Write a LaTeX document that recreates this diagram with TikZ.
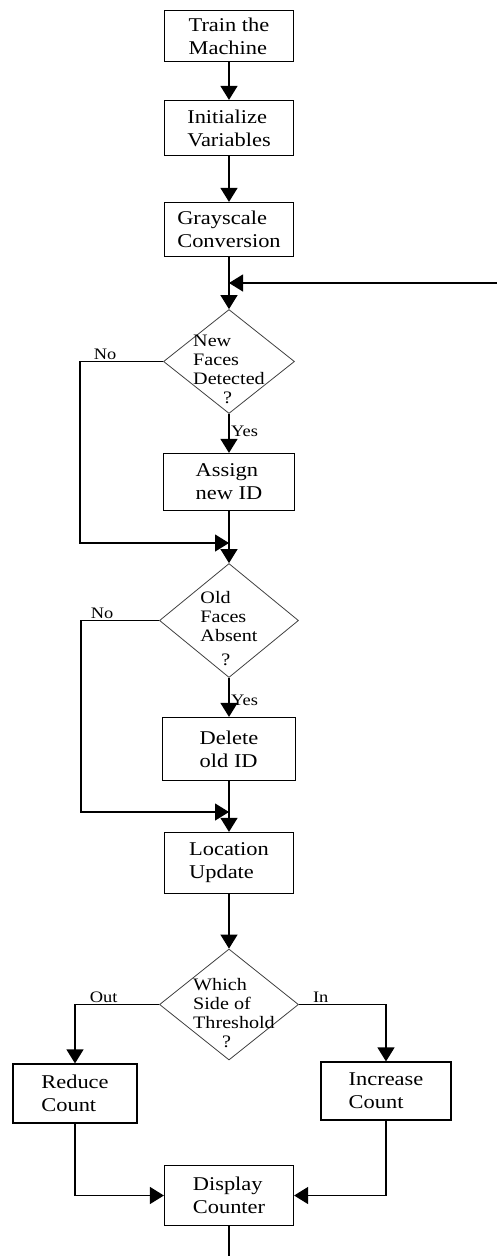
\documentclass[tikz,border=0pt]{standalone}
\usepackage{fontspec}
\setmainfont[FakeStretch=1.15]{Liberation Serif}
\usetikzlibrary{arrows.meta, positioning, shapes.geometric}

\begin{document}
\begin{tikzpicture}[
				x=1pt, y=-1pt,
				node distance=100pt,
				box/.style={draw, line width=1.2pt, rectangle, minimum width=129pt, minimum height=57pt, inner sep=2pt, align=left, font=\fontsize{19.5}{23}\selectfont},
				decision/.style={draw=black!75, line width=0.8pt, diamond, inner sep=0pt},
				dtext/.style={align=left, inner sep=0pt, font=\fontsize{17.5}{19}\selectfont},
				lbl/.style={inner sep=1.5pt, font=\fontsize{16}{18}\selectfont},
				line/.style={line width=1.3pt},
				flow/.style={line, -{Triangle[width=17pt,length=14pt]}}]

			\useasboundingbox (0,0) rectangle (497,1256);

			\node[box, minimum height=51pt] (train) at (229,36) {Train the\\Machine};
			\node[box, minimum height=55pt, node distance=92pt, below of=train] (init_vars) {Initialize\\Variables};
			\node[box, minimum height=54pt, node distance=101.5pt, below of=init_vars] (grayscale) {Grayscale\\Conversion};
			\node[decision, minimum width=131pt, minimum height=104pt, node distance=132pt, below of=grayscale] (new_faces) {};
			\node[dtext] (new_txt) at ([yshift=-8pt]new_faces.center) {New\\Faces\\Detected\\\hspace*{30pt}?};
			\node[box, minimum width=131pt, node distance=120.5pt, below of=new_faces] (assign_id) {Assign\\new ID};
			\node[decision, minimum width=139pt, minimum height=114pt, node distance=138.5pt, below of=assign_id] (old_faces) {};
			\node[dtext] (old_txt) at ([yshift=-8.5pt]old_faces.center) {Old\\Faces\\Absent\\[5pt]\hspace*{21pt}?};
			\node[box, minimum width=133pt, minimum height=63pt, node distance=128.5pt, below of=old_faces] (delete_id) {Delete\\old ID};
			\node[box, minimum height=61pt, node distance=114pt, below of=delete_id] (location) {Location\\Update};
			\node[decision, minimum width=139pt, minimum height=111pt, node distance=141.5pt, below of=location] (which_side) {};
			\node[dtext, xshift=5pt] (which_txt) at ([yshift=-8.5pt]which_side.center) {Which\\Side of\\Threshold\\\hspace*{29pt}?};
			\node[box, minimum width=124pt, minimum height=59pt] (reduce) at (75,1093.5) {Reduce\\Count};
			\node[box, minimum width=130pt, minimum height=58pt] (increase) at (386,1091) {Increase\\Count};
			\node[box, minimum height=60pt, node distance=191pt, below of=which_side] (display) {Display\\Counter};

			\coordinate (loop_in) at (497,283);
			\coordinate (merge) at (229,283);
			\coordinate (join_new) at (229,543);
			\coordinate (join_old) at (229,812);
			\coordinate (out_end) at (229,1256);

			\draw[flow] (train) -- (init_vars);
			\draw[flow] (init_vars) -- (grayscale);
			\draw[flow] (grayscale) -- (new_faces);
			\draw[flow] (loop_in) -- (merge);

			\draw[flow] (new_faces) -- node[lbl, right, pos=0.45] (yes_new) {Yes} (assign_id);
			\draw[flow] (new_faces.west) -- ++(-83,0) node[lbl, above, pos=0.7] (no_new) {No} |- (join_new);
			\draw[line] (assign_id) -- (join_new);
			\draw[flow] (join_new) -- (old_faces);

			\draw[flow] (old_faces) -- node[lbl, right, pos=0.58] (yes_old) {Yes} (delete_id);
			\draw[flow] (old_faces.west) -- ++(-78,0) node[lbl, above, pos=0.73] (no_old) {No} |- (join_old);
			\draw[line] (delete_id) -- (join_old);
			\draw[flow] (join_old) -- (location);

			\draw[flow] (location) -- (which_side);
			\draw[flow] (which_side.west) -| node[lbl, above, pos=0.33] (out_lbl) {Out} (reduce);
			\draw[flow] (which_side.east) -| node[lbl, above, pos=0.125] (in_lbl) {In} (increase);
			\draw[flow] (reduce) |- (display);
			\draw[flow] (increase) |- (display);
			\draw[line] (display) -- (out_end);

		\end{tikzpicture}
\end{document}
